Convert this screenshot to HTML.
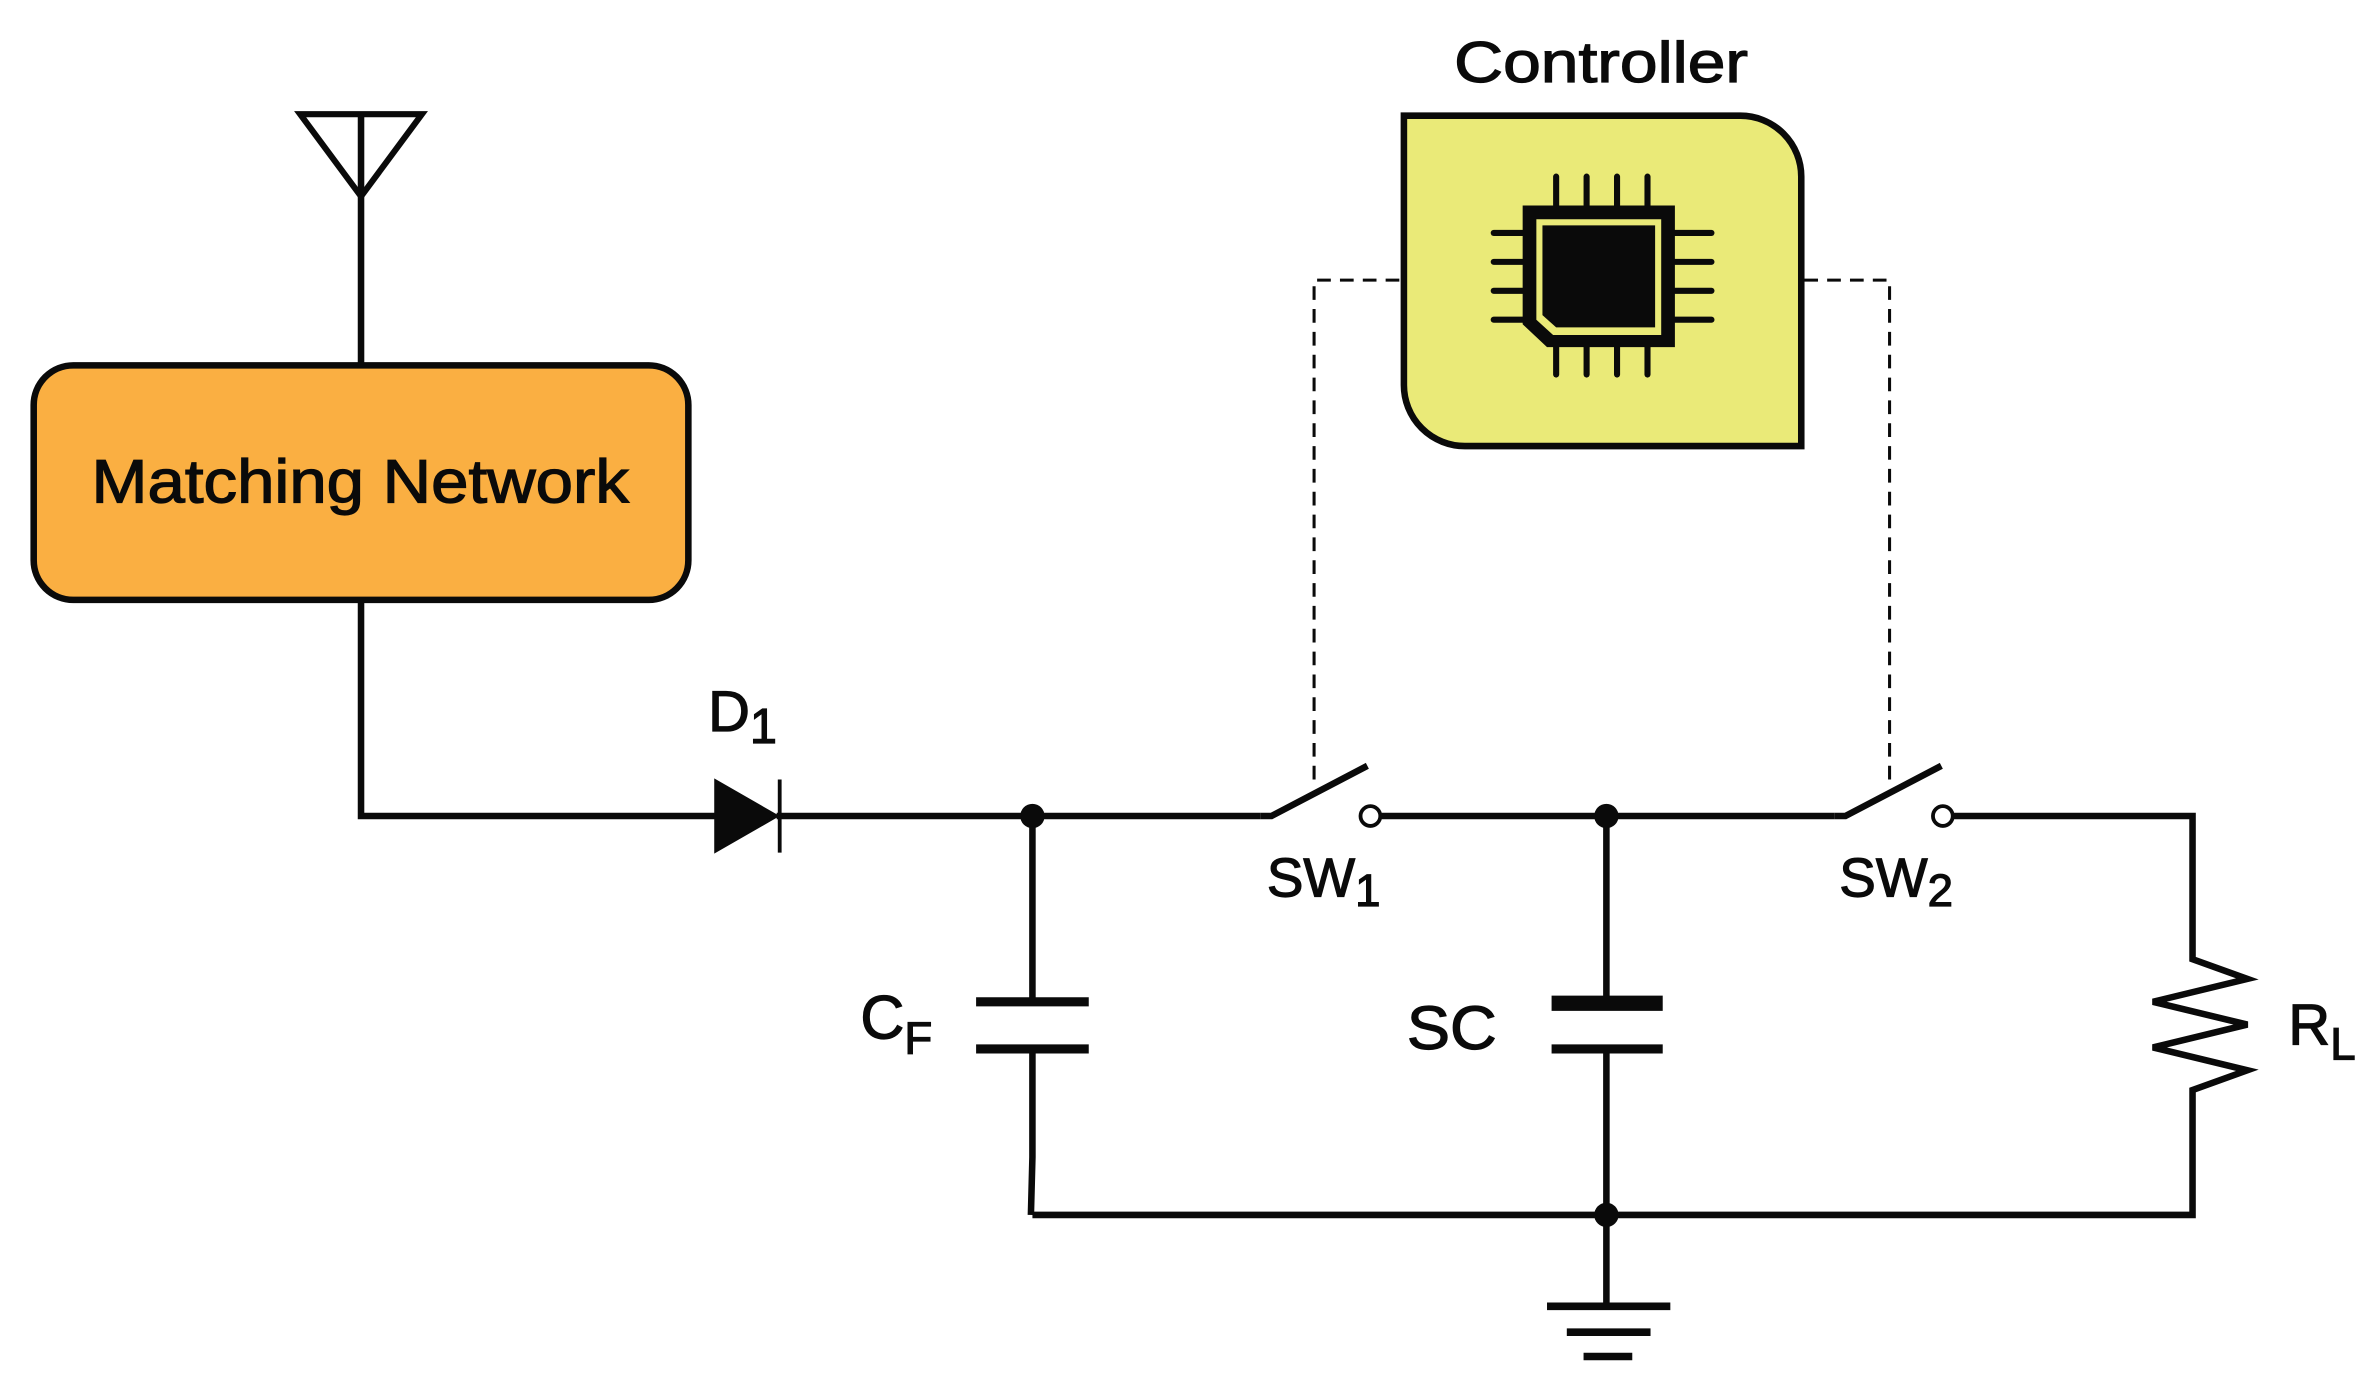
<!DOCTYPE html>
<html><head><meta charset="utf-8"><style>
html,body{margin:0;padding:0;background:#fff;}
svg{display:block;}
text{font-family:"Liberation Sans",sans-serif;fill:#0a0a0a;}
</style></head><body>
<svg width="2380" height="1390" viewBox="0 0 1563 913" xmlns="http://www.w3.org/2000/svg">
<rect width="1563" height="913" fill="#fff"/>
<g stroke="#0a0a0a" fill="none" stroke-width="4.3" stroke-linejoin="miter">
<polygon points="197,75 277,75 237,129" stroke-width="4"/>
<line x1="237" y1="75" x2="237" y2="240"/>
<rect x="22" y="240" width="430" height="154" rx="26" fill="#FAAF42"/>
<polyline points="237,394 237,536 470,536"/>
<polygon points="470,513 470,559 510,536" fill="#0a0a0a" stroke-width="2"/>
<line x1="512" y1="512" x2="512" y2="560" stroke-width="2.5"/>
<line x1="510" y1="536" x2="828" y2="536"/>
<polyline points="828,536 835,536 898,503"/>
<circle cx="900" cy="536" r="6.5" stroke-width="2.5" fill="#fff"/>
<line x1="907" y1="536" x2="1205" y2="536"/>
<polyline points="1205,536 1212,536 1275,503"/>
<circle cx="1276" cy="536" r="6.5" stroke-width="2.5" fill="#fff"/>
<polyline points="1283,536 1440,536 1440,630 1476,643 1414,658 1476,673 1414,688 1476,703 1440,716 1440,798 678,798"/>
<line x1="678" y1="536" x2="678" y2="658"/>
<line x1="641" y1="658" x2="715" y2="658" stroke-width="6"/>
<line x1="641" y1="689" x2="715" y2="689" stroke-width="6"/>
<polyline points="678,689 678,760 677,798"/>
<line x1="1055" y1="536" x2="1055" y2="656"/>
<line x1="1019" y1="659" x2="1092" y2="659" stroke-width="10"/>
<line x1="1019" y1="689" x2="1092" y2="689" stroke-width="6"/>
<line x1="1055" y1="689" x2="1055" y2="858"/>
<line x1="1016" y1="858" x2="1097" y2="858" stroke-width="5"/>
<line x1="1029" y1="875" x2="1084" y2="875" stroke-width="5"/>
<line x1="1040" y1="891" x2="1072" y2="891" stroke-width="5"/>
<polyline points="863,512 863,184 920,184" stroke-width="2" stroke-dasharray="9,6"/>
<polyline points="1241,512 1241,184 1185,184" stroke-width="2" stroke-dasharray="9,6"/>
<path d="M922,76 L1143,76 A40,40 0 0 1 1183,116 L1183,293 L962,293 A40,40 0 0 1 922,253 Z" fill="#EAEA78"/>
</g>
<g fill="#0a0a0a">
<circle cx="678" cy="536" r="8"/>
<circle cx="1055" cy="536" r="8"/>
<circle cx="1055" cy="798" r="8"/>
</g>
<g stroke="#0a0a0a" stroke-width="4" stroke-linecap="round">
<line x1="1022" y1="116" x2="1022" y2="136"/><line x1="1042" y1="116" x2="1042" y2="136"/><line x1="1062" y1="116" x2="1062" y2="136"/><line x1="1082" y1="116" x2="1082" y2="136"/>
<line x1="1022" y1="228" x2="1022" y2="246"/><line x1="1042" y1="228" x2="1042" y2="246"/><line x1="1062" y1="228" x2="1062" y2="246"/><line x1="1082" y1="228" x2="1082" y2="246"/>
<line x1="981" y1="153" x2="1001" y2="153"/><line x1="981" y1="172" x2="1001" y2="172"/><line x1="981" y1="191" x2="1001" y2="191"/><line x1="981" y1="210" x2="1001" y2="210"/>
<line x1="1100" y1="153" x2="1124" y2="153"/><line x1="1100" y1="172" x2="1124" y2="172"/><line x1="1100" y1="191" x2="1124" y2="191"/><line x1="1100" y1="210" x2="1124" y2="210"/>
</g>
<path d="M1000,135 L1100,135 L1100,228 L1016,228 L1000,213 Z" fill="#0a0a0a"/>
<path d="M1009,144 L1091,144 L1091,220 L1020,220 L1009,210 Z" fill="#EAEA78"/>
<path d="M1013,148 L1087,148 L1087,215 L1022,215 L1013,207 Z" fill="#0a0a0a"/>
<g stroke="#0a0a0a" stroke-width="0.8">
<text x="955" y="54" font-size="38" textLength="193" lengthAdjust="spacingAndGlyphs">Controller</text>
<text x="60" y="330" font-size="40" textLength="353" lengthAdjust="spacingAndGlyphs">Matching Network</text>
<text x="465" y="480" font-size="38">D<tspan font-size="32" dy="8">1</tspan></text>
<text x="832" y="589" font-size="36">SW<tspan font-size="30" dy="6">1</tspan></text>
<text x="1208" y="589" font-size="36">SW<tspan font-size="30" dy="6">2</tspan></text>
<text x="565" y="682" font-size="40">C<tspan font-size="30" dy="10">F</tspan></text>
<text x="924" y="689" font-size="40" textLength="59" lengthAdjust="spacingAndGlyphs">SC</text>
<text x="1503" y="686" font-size="38">R<tspan font-size="30" dy="10">L</tspan></text>
</g>
</svg>
</body></html>
